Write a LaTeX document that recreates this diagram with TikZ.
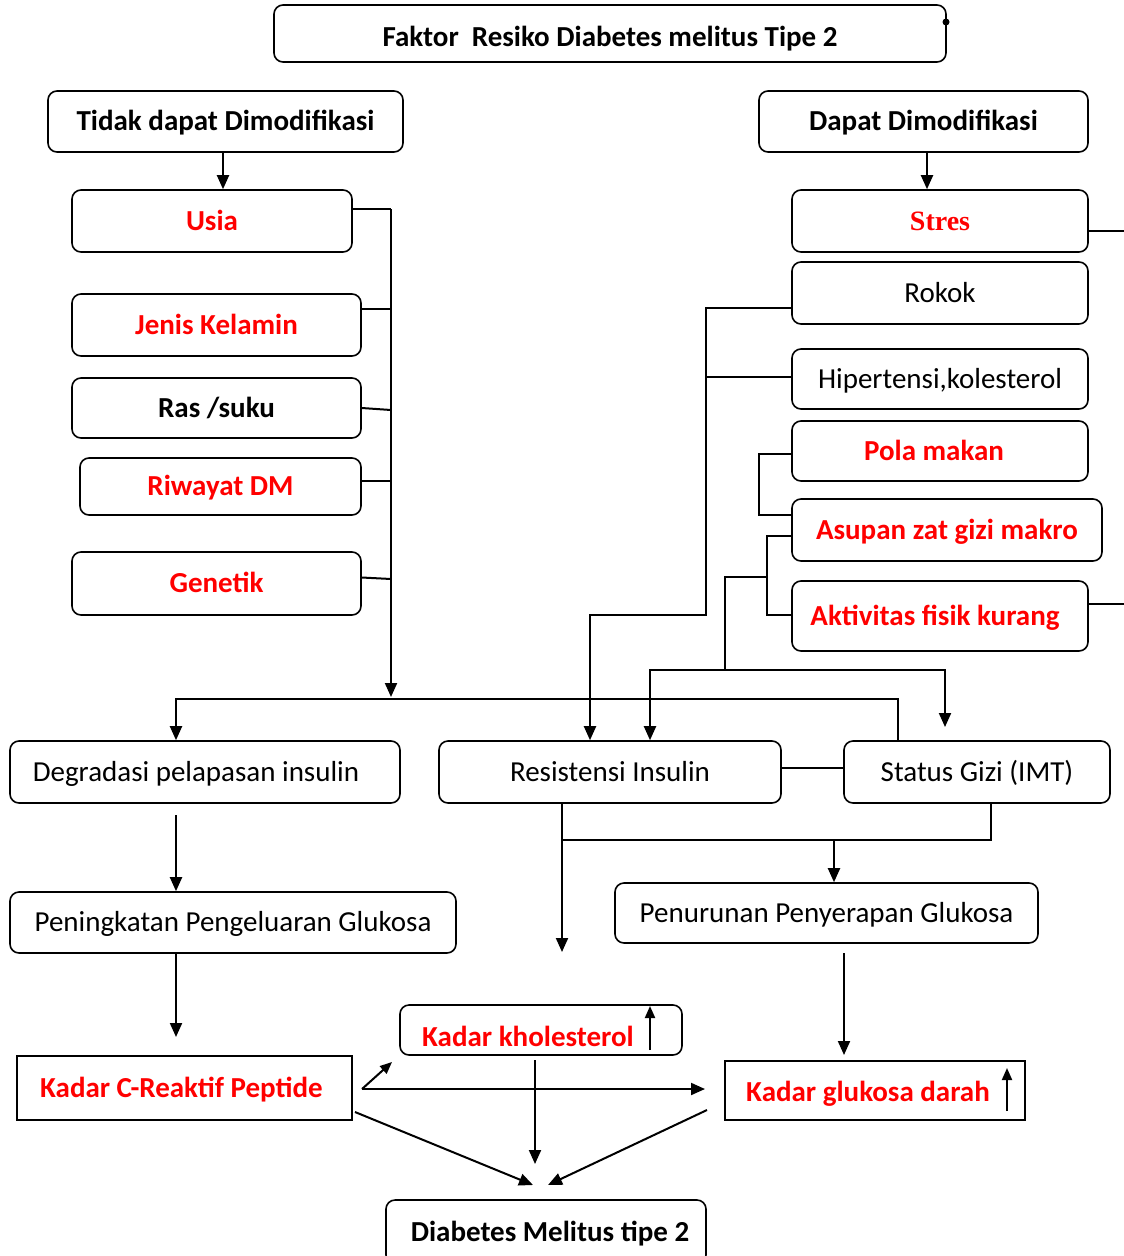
\documentclass[tikz,border=0pt]{standalone}
\usepackage{fontspec}
\setmainfont{Carlito}
\newfontfamily\serifb{Liberation Serif}
\usetikzlibrary{arrows.meta,calc}
\definecolor{rd}{RGB}{255,0,0}
\tikzset{
  rbox/.style={draw, rounded corners=9pt, line width=1.6pt, inner sep=0pt},
  sbox/.style={draw, line width=1.6pt, inner sep=0pt},
  bt/.style={font=\bfseries\fontsize{29}{33}\selectfont, text height=21pt, text depth=2.5pt},
  rt/.style={font=\fontsize{29}{33}\selectfont, text height=21pt, text depth=2.5pt},
  redt/.style={text=rd},
  conn/.style={line width=2pt},
  arr/.style={conn, -{Triangle[length=14pt,width=12pt]}},
  sarr/.style={conn, -{Triangle[length=12pt,width=10pt]}},
}
\begin{document}
\begin{tikzpicture}[x=1pt,y=-1pt]
\useasboundingbox (0,0) rectangle (1124,1256);
\clip (0,0) rectangle (1124,1256);
\fill[white] (0,0) rectangle (1124,1256);

% top
\node[rbox, minimum width=672pt, minimum height=57pt, bt, text height=26pt, text depth=0.3pt] (title) at (610,33.5) {Faktor\ \ Resiko Diabetes melitus Tipe 2};
\fill (946,22) circle (3.5pt);
\node[rbox, minimum width=355pt, minimum height=61pt, bt] (tidak) at (225.5,121.5) {Tidak dapat Dimodifikasi};
\node[rbox, minimum width=329pt, minimum height=61pt, bt] (dapat) at (923.5,121.5) {Dapat Dimodifikasi};

% left column
\node[rbox, minimum width=280pt, minimum height=62pt, bt, redt] (usia) at (212,221) {Usia};
\node[rbox, minimum width=289pt, minimum height=62pt, bt, redt] (jenis) at (216.5,325) {Jenis Kelamin};
\node[rbox, minimum width=289pt, minimum height=60pt, bt] (ras) at (216.5,408) {Ras /suku};
\node[rbox, minimum width=281pt, minimum height=57pt, bt, redt] (riwayat) at (220.5,486.5) {Riwayat DM};
\node[rbox, minimum width=289pt, minimum height=63pt, bt, redt] (genetik) at (216.5,583.5) {Genetik};

% right column
\node[rbox, minimum width=296pt, minimum height=62pt, redt, font=\serifb\bfseries\fontsize{28}{31}\selectfont, text height=21pt, text depth=2.5pt] (stres) at (940,221) {Stres};
\node[rbox, minimum width=296pt, minimum height=62pt, rt] (rokok) at (940,293) {Rokok};
\node[rbox, minimum width=296pt, minimum height=60pt, rt] (hiper) at (940,379) {Hipertensi,kolesterol};
\node[rbox, minimum width=296pt, minimum height=60pt, bt, redt] (pola) at (940,451) {\hspace*{-12pt}Pola makan};
\node[rbox, minimum width=310pt, minimum height=62pt, bt, redt] (asupan) at (947,530) {Asupan zat gizi makro};
\node[rbox, minimum width=296pt, minimum height=70pt, bt, redt] (aktiv) at (940,616) {\hspace*{-10pt}Aktivitas fisik kurang};

% middle row
\node[rbox, minimum width=390pt, minimum height=62pt, rt] (degr) at (205,772) {\hspace*{-18pt}Degradasi pelapasan insulin};
\node[rbox, minimum width=342pt, minimum height=62pt, rt] (resis) at (610,772) {Resistensi Insulin};
\node[rbox, minimum width=266pt, minimum height=62pt, rt] (status) at (977,772) {Status Gizi (IMT)};
\node[rbox, minimum width=446pt, minimum height=61pt, rt] (pening) at (233,922.5) {Peningkatan Pengeluaran Glukosa};
\node[rbox, minimum width=423pt, minimum height=60pt, rt] (penur) at (826.5,913) {Penurunan Penyerapan Glukosa};

% bottom
\node[sbox, minimum width=335pt, minimum height=64pt, bt, redt] (crp) at (184.5,1088) {\hspace*{-6pt}Kadar C-Reaktif Peptide};
\node[rbox, minimum width=282pt, minimum height=50pt] (khol) at (541,1030) {};
\node[bt, redt, anchor=base, text height=, text depth=] (kholt) at (528,1046) {Kadar kholesterol};
\node[sbox, minimum width=300pt, minimum height=59pt] (gluk) at (875,1090.5) {};
\node[bt, redt, anchor=base, text height=, text depth=] (glukt) at (868,1101) {Kadar glukosa darah};
\node[rbox, minimum width=320pt, minimum height=64pt, bt] (dm) at (546,1232) {\hspace*{8pt}Diabetes Melitus tipe 2};

% connectors: top
\draw[arr] (tidak.south -| 223,0) -- (223,0 |- usia.north);
\draw[arr] (dapat.south -| 927,0) -- (927,0 |- stres.north);

% left bus
\coordinate (lb0) at (391,209);
\coordinate (lb1) at (391,309);
\coordinate (lb2) at (391,410);
\coordinate (lb3) at (391,481);
\coordinate (lb4) at (391,579);
\coordinate (lbE) at (391,697);
\draw[conn] (lb0 -| usia.east) -- (lb0);
\draw[conn] (lb1 -| jenis.east) -- (lb1);
\draw[conn] (ras.east) -- (lb2);
\draw[conn] (lb3 -| riwayat.east) -- (lb3);
\draw[conn] ([yshift=6pt]genetik.east) -- (lb4);
\draw[arr] (lb0) -- (lbE);

% main horizontal bus
\coordinate (b1) at (898,699);
\coordinate (b2) at (176,699);
\draw[arr] (b1 |- status.north) -- (b1) -- (b2) -- (b2 |- degr.north);

% right connectors
\coordinate (se) at (1130,231);
\coordinate (ae) at (1130,604);
\draw[conn] (se -| stres.east) -- (se);
\draw[conn] (ae -| aktiv.east) -- (ae);

\coordinate (r1) at (706,308);
\coordinate (r2) at (706,615);
\coordinate (r3) at (590,615);
\coordinate (h1) at (706,377);
\draw[arr] (r1 -| rokok.west) -- (r1) -- (r2) -- (r3) -- (r3 |- resis.north);
\draw[conn] (h1 -| hiper.west) -- (h1);

\coordinate (p1) at (759,454);
\coordinate (p2) at (759,515);
\draw[conn] (p1 -| pola.west) -- (p1) -- (p2) -- (p2 -| asupan.west);

\coordinate (a1) at (767,536);
\coordinate (a2) at (767,615);
\draw[conn] (a1 -| asupan.west) -- (a1) -- (a2) -- (a2 -| aktiv.west);

\coordinate (k1) at (767,577);
\coordinate (k2) at (725,577);
\coordinate (k3) at (725,670);
\coordinate (k4) at (650,670);
\coordinate (k5) at (945,670);
\coordinate (k6) at (945,727);
\draw[conn] (k1) -- (k2) -- (k3);
\draw[arr] (k3) -- (k4) -- (k4 |- resis.north);
\draw[arr] (k3) -- (k5) -- (k6);

% middle
\draw[conn] ([yshift=4pt]resis.east) -- ([yshift=4pt]status.west);
\coordinate (d1) at (176,815);
\draw[arr] (d1) -- (d1 |- pening.north);

\coordinate (rs) at (562,840);
\coordinate (rsE) at (562,952);
\coordinate (st) at (991,840);
\coordinate (pn) at (834,840);
\draw[arr] (rs |- resis.south) -- (rsE);
\draw[conn] (rs) -- (st) -- (st |- status.south);
\draw[arr] (pn) -- (pn |- penur.north);

\coordinate (pg) at (176,1037);
\draw[arr] (pg |- pening.south) -- (pg);
\coordinate (q1) at (844,953);
\coordinate (q2) at (844,1055);
\draw[arr] (q1) -- (q2);

% bottom arrows
\coordinate (c0) at (362,1089);
\coordinate (c1) at (392,1062);
\coordinate (c2) at (705,1089);
\draw[sarr] (c0) -- (c1);
\draw[arr] (c0) -- (c2);
\coordinate (kh1) at (535,1060);
\coordinate (kh2) at (535,1164);
\draw[arr] (kh1) -- (kh2);
\coordinate (l1) at (355,1112);
\coordinate (l2) at (533,1185);
\coordinate (g1) at (707,1110);
\coordinate (g2) at (548,1185);
\draw[arr] (l1) -- (l2);
\draw[arr] (g1) -- (g2);

% small up arrows inside boxes
\coordinate (u1) at (650,1050);
\coordinate (u2) at (650,1006);
\draw[sarr] (u1) -- (u2);
\coordinate (v1) at (1007,1111);
\coordinate (v2) at (1007,1068);
\draw[sarr] (v1) -- (v2);
\end{tikzpicture}
\end{document}
